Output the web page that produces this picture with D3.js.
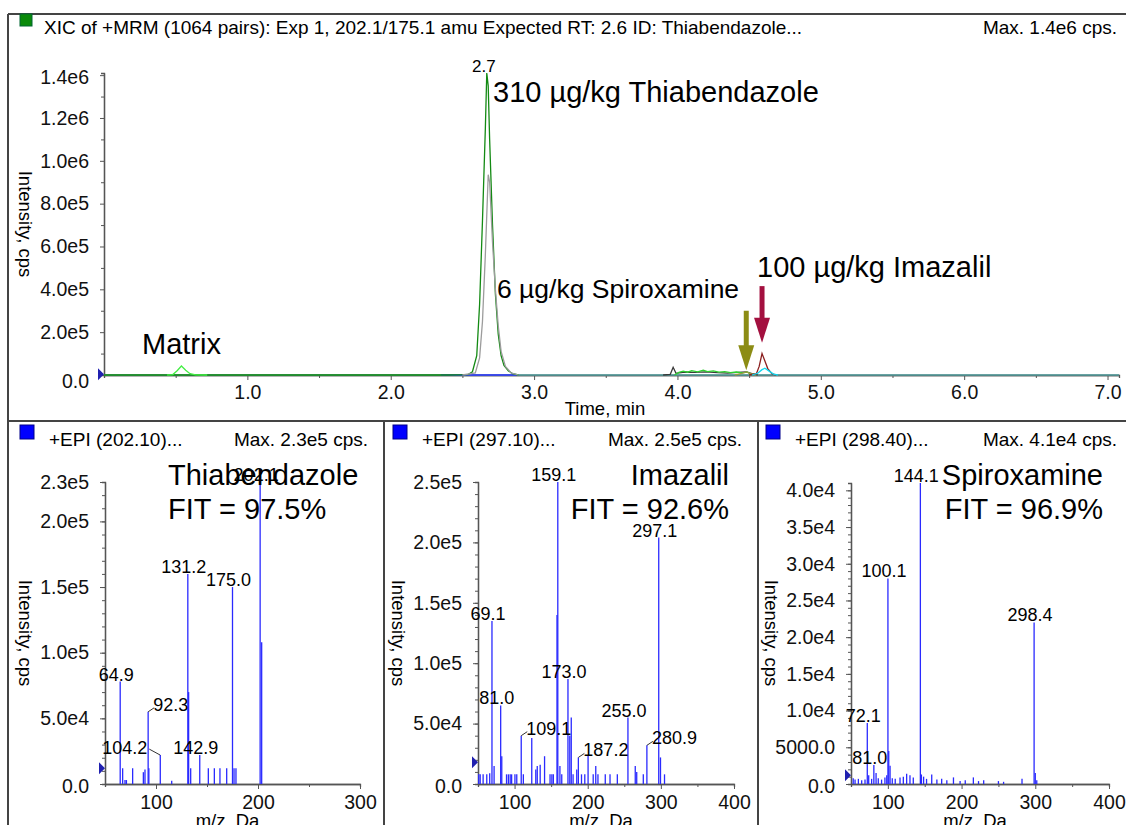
<!DOCTYPE html>
<html>
<head>
<meta charset="utf-8">
<script src="https://cdn.jsdelivr.net/npm/d3@7"></script>
<style>
  body { margin: 0; background: #fff; }
  svg { display: block; font-family: Arial, "Liberation Sans", sans-serif; }
</style>
</head>
<body>
<div id="chart"></div>
<script>
// ---- XIC traces, [time (min), intensity (cps)] ----
const xicBaseline = [[0, 0], [7.08, 0]];
const xicBlueBase = [[2.35, 0], [2.88, 0]];
const xicThiabendazole = [[0, 0], [2.40, 0], [2.54, 2000], [2.57, 15000], [2.60, 90000], [2.62, 330000], [2.64, 720000],
  [2.66, 1150000], [2.67, 1410000], [2.68, 1350000], [2.69, 1100000], [2.71, 700000], [2.73, 380000],
  [2.75, 190000], [2.77, 90000], [2.79, 45000], [2.82, 20000], [2.85, 6000], [2.89, 0]];
const xicGray = [[2.50, 0], [2.59, 10000], [2.62, 80000], [2.64, 250000], [2.66, 560000], [2.68, 935000],
  [2.69, 900000], [2.71, 620000], [2.73, 400000], [2.75, 230000], [2.77, 110000], [2.80, 40000],
  [2.84, 10000], [2.89, 0]];
const xicMatrix = [[0.44, 0], [0.48, 2000], [0.51, 20000], [0.54, 42000], [0.57, 22000], [0.60, 6000],
  [0.64, 1000], [0.72, 0]];
const xicDark = [[3.90, 0], [3.95, 3000], [3.97, 36000], [3.99, 8000], [4.05, 14000], [4.12, 12000], [4.20, 15000],
  [4.28, 11000], [4.35, 9000], [4.42, 12000], [4.48, 15000], [4.52, 6000], [4.56, 0]];
const xicNoise = [[3.98, 0], [4.01, 12000], [4.04, 18000], [4.07, 13000], [4.10, 20000], [4.14, 15000],
  [4.18, 22000], [4.21, 16000], [4.25, 19000], [4.29, 13000], [4.33, 16000], [4.37, 11000], [4.41, 14000],
  [4.45, 10000], [4.49, 13000], [4.52, 0]];
const xicSpiroxamine = [[4.40, 0], [4.45, 8000], [4.48, 14000], [4.51, 6000], [4.55, 0]];
const xicImazalil = [[4.50, 0], [4.55, 5000], [4.57, 40000], [4.59, 100000], [4.61, 65000], [4.63, 30000],
  [4.66, 5000], [4.69, 0]];
const xicCyan = [[4.52, 0], [4.56, 8000], [4.59, 25000], [4.61, 32000], [4.64, 18000], [4.67, 4000], [4.70, 0]];

// arrows: time, from intensity, to intensity
const arrowSpiro = [4.48, 300000, 22000];
const arrowImaz = [4.59, 415000, 150000];

const xicTicks = [1, 2, 3, 4, 5, 6, 7];
const xicYTicks = [0, 2e5, 4e5, 6e5, 8e5, 1e6, 1.2e6, 1.4e6];

// ---- EPI spectra, [m/z, intensity (cps)] ----
const specThiabendazole = [[64.9, 78000], [67.3, 12000], [69.6, 3000], [71, 3000], [77.1, 12000], [87.6, 9000],
  [89.2, 11000], [92.3, 55000], [93, 12000], [104.2, 22000], [115.4, 2500], [131.2, 160000], [132, 70000],
  [134, 12000], [142.9, 22000], [151.3, 12000], [157.2, 12000], [162.7, 12000], [169.3, 12000], [175.0, 150000],
  [176.5, 12000], [178.4, 12000], [202.1, 230000], [203.6, 108000]];
const specImazalil = [[51, 8000], [53, 8000], [57, 8000], [62, 8000], [66, 9000], [69.1, 135000], [72, 15000],
  [81.0, 65000], [82.5, 23000], [89, 8000], [91.5, 8000], [94, 8000], [96, 8000], [100.5, 8000], [103, 8000],
  [109.1, 40000], [112, 8000], [123.5, 38000], [129, 12000], [131, 15000], [135, 16000], [141, 23000],
  [148.5, 8000], [151, 8000], [153, 8000], [158, 140000], [159.1, 250000], [162, 15000], [164.5, 8000],
  [173.0, 87000], [175.5, 40000], [177.5, 55000], [180, 8000], [185, 12000], [187.2, 22000], [191.5, 8000],
  [196, 8000], [200.5, 24000], [207.5, 8000], [211, 15000], [214, 8000], [224, 8000], [230.5, 8000],
  [240.5, 8000], [255.0, 55000], [265, 15000], [267, 10000], [276, 8000], [280.9, 32000], [297.1, 204000],
  [299.5, 22000], [305, 8000]];
const specSpiroxamine = [[53, 800], [55.5, 600], [60, 700], [64.5, 500], [69, 600], [72.1, 8300], [74, 1200],
  [78, 700], [81.0, 2600], [84, 1500], [87, 800], [91.5, 600], [96, 900], [98.5, 1200], [100.1, 28000],
  [101.2, 4500], [103, 2500], [106, 800], [110, 700], [116.5, 900], [121, 1000], [125.5, 1400], [130, 1200],
  [134.5, 900], [144.1, 41000], [145.5, 1300], [148.5, 1000], [152.5, 700], [159.5, 1300], [166.5, 600],
  [173, 700], [180, 500], [189, 900], [198, 400], [205, 500], [216, 900], [223, 400], [230, 500], [250, 400],
  [257, 300], [282, 700], [298.4, 22000], [300, 1500], [302, 500]];

const peakLabelsThia = ["64.9", "92.3", "104.2", "131.2", "142.9", "175.0", "202.1"];
const peakLabelsImaz = ["69.1", "81.0", "109.1", "159.1", "173.0", "187.2", "255.0", "280.9", "297.1"];
const peakLabelsSpiro = ["72.1", "81.0", "100.1", "144.1", "298.4"];

const specYTicksThia = [0, 5e4, 1e5, 1.5e5, 2e5, 2.3e5];
const specYTicksImaz = [0, 5e4, 1e5, 1.5e5, 2e5, 2.5e5];
const specYTicksSpiro = [0, 5000, 1e4, 1.5e4, 2e4, 2.5e4, 3e4, 3.5e4, 4e4];

// threshold markers (blue triangles at the y axis)
const thresholds = { xic: 3000, thia: 12000, imaz: 18000, spiro: 1200 };

// ------------------------------------------------------------------
const W = 1126, H = 825;
const svg = d3.select("#chart").append("svg").attr("width", W).attr("height", H);
const axisColor = "#555";
const tickFont = "19.5px", headFont = "19px", labelFont = "18.5px", peakFont = "18px", bigFont = "29px";

function sciFmt(v) {
  if (v === 0) return "0.0";
  if (v < 1e4) return v.toFixed(1);
  const e = Math.floor(Math.log10(v) + 1e-9);
  return (v / Math.pow(10, e)).toFixed(1) + "e" + e;
}

function styleAxis(g) {
  g.selectAll(".domain").attr("stroke", axisColor).attr("stroke-width", 1.3);
  g.selectAll(".tick line").attr("stroke", axisColor);
  g.selectAll(".tick text").attr("fill", "#111").style("font-size", tickFont)
    .style("font-family", "Arial, 'Liberation Sans', sans-serif");
}

function triangle(x, y) {
  svg.append("path")
    .attr("d", `M${x - 6},${y - 6} L${x},${y} L${x - 6},${y + 6} Z`)
    .attr("fill", "#2020b0");
}

// ---- frame ----
const frame = svg.append("g").attr("stroke", "#444").attr("stroke-width", 2).attr("fill", "none");
frame.append("line").attr("x1", 8).attr("x2", W).attr("y1", 14).attr("y2", 14);
frame.append("line").attr("x1", 8).attr("x2", 8).attr("y1", 14).attr("y2", H);
frame.append("line").attr("x1", 8).attr("x2", W).attr("y1", 421).attr("y2", 421);
frame.append("line").attr("x1", 384).attr("x2", 384).attr("y1", 421).attr("y2", H);
frame.append("line").attr("x1", 758).attr("x2", 758).attr("y1", 421).attr("y2", H);

// ---- top XIC panel ----
svg.append("rect").attr("x", 20).attr("y", 14).attr("width", 12).attr("height", 12)
  .attr("fill", "#0a8a0a").attr("stroke", "#063").attr("stroke-width", 1);
svg.append("text").attr("x", 44).attr("y", 34).style("font-size", headFont)
  .text("XIC of +MRM (1064 pairs): Exp 1, 202.1/175.1 amu Expected RT: 2.6 ID: Thiabendazole...");
svg.append("text").attr("x", 1117).attr("y", 34).attr("text-anchor", "end").style("font-size", headFont)
  .text("Max. 1.4e6 cps.");

const xT = d3.scaleLinear().domain([0, 7.08]).range([104, 1119]);
const yT = d3.scaleLinear().domain([0, 1.41e6]).range([375, 73]);

const gxT = svg.append("g").attr("transform", `translate(0,${yT(0)})`)
  .call(d3.axisBottom(xT).tickValues(xicTicks).tickSize(5).tickSizeOuter(0).tickPadding(5)
    .tickFormat(d => d.toFixed(1)));
styleAxis(gxT);
const gxTm = svg.append("g").attr("transform", `translate(0,${yT(0)})`)
  .call(d3.axisBottom(xT).tickValues(d3.range(0.5, 7.1, 1)).tickSize(3).tickFormat(""));
styleAxis(gxTm);
const gyT = svg.append("g").attr("transform", `translate(${xT(0)},0)`)
  .call(d3.axisLeft(yT).tickValues(xicYTicks).tickSize(4).tickSizeOuter(0).tickPadding(11).tickFormat(sciFmt));
styleAxis(gyT);
gyT.selectAll(".tick text").filter(d => d === 0).attr("dy", "0.62em");
gyT.selectAll(".tick text").filter(d => d === 1.4e6).attr("dy", "0.45em");
const gyTm = svg.append("g").attr("transform", `translate(${xT(0)},0)`)
  .call(d3.axisLeft(yT).tickValues(d3.range(1e5, 1.41e6, 2e5)).tickSize(3).tickFormat(""));
styleAxis(gyTm);

svg.append("text").attr("x", 605).attr("y", 415).attr("text-anchor", "middle").style("font-size", labelFont)
  .text("Time, min");
svg.append("text").attr("transform", "translate(19,224) rotate(90)").attr("text-anchor", "middle")
  .style("font-size", labelFont).text("Intensity, cps");

const lineT = d3.line().x(d => xT(d[0])).y(d => yT(d[1]));
const traces = [
  [xicBaseline, "#4f9c9c"], [xicBlueBase, "#3030ff"], [xicThiabendazole, "#138a13"], [xicGray, "#9c9c9c"],
  [xicMatrix, "#44ee44"], [xicDark, "#3a3a3a"], [xicNoise, "#2fd02f"], [xicSpiroxamine, "#9a9a40"],
  [xicImazalil, "#8b2020"], [xicCyan, "#10d8f0"]
];
traces.forEach(([data, color]) => {
  svg.append("path").datum(data).attr("fill", "none").attr("stroke", color)
    .attr("stroke-width", 1.3).attr("d", lineT);
});
triangle(xT(0), yT(thresholds.xic));

// arrows
function arrow(a, color) {
  const x = xT(a[0]), y0 = yT(a[1]), y1 = yT(a[2]);
  svg.append("line").attr("x1", x).attr("x2", x).attr("y1", y0).attr("y2", y1 - 20)
    .attr("stroke", color).attr("stroke-width", 5);
  svg.append("path").attr("d", `M${x - 8},${y1 - 25} L${x + 8},${y1 - 25} L${x},${y1} Z`).attr("fill", color);
}
arrow(arrowSpiro, "#8c8c14");
arrow(arrowImaz, "#a3103f");

// annotations
svg.append("text").attr("x", xT(2.67) - 3).attr("y", yT(1.41e6) - 1).attr("text-anchor", "middle")
  .style("font-size", "17px").text("2.7");
svg.append("text").attr("x", 493).attr("y", 102).style("font-size", bigFont).text("310 µg/kg Thiabendazole");
svg.append("text").attr("x", 497).attr("y", 298).style("font-size", "26.5px").text("6 µg/kg Spiroxamine");
svg.append("text").attr("x", 757).attr("y", 277).style("font-size", bigFont).text("100 µg/kg Imazalil");
svg.append("text").attr("x", 142).attr("y", 354).style("font-size", bigFont).text("Matrix");

// ---- spectra panels ----
// leader-line labels: side to which the text moves away from the peak
const leaderRight = ["92.3", "109.1", "187.2", "280.9"];
const leaderLeft = ["104.2"];

function spectrumPanel(cfg) {
  const g = svg.append("g");
  g.append("rect").attr("x", cfg.left - 85).attr("y", 425).attr("width", 14).attr("height", 14)
    .attr("fill", "#0000ff").attr("stroke", "#00008a");
  g.append("text").attr("x", cfg.left - 56).attr("y", 446).style("font-size", headFont).text(cfg.title);
  g.append("text").attr("x", cfg.maxX).attr("y", 446).attr("text-anchor", "end").style("font-size", headFont)
    .text(cfg.max);

  const x = d3.scaleLinear().domain(cfg.xDomain).range([cfg.left, cfg.right]);
  const y = d3.scaleLinear().domain([0, cfg.yMax]).range([784, cfg.top]);

  const gx = g.append("g").attr("transform", `translate(0,784)`)
    .call(d3.axisBottom(x).tickValues(cfg.xTicks).tickSize(5).tickSizeOuter(0).tickPadding(6).tickFormat(d3.format("d")));
  styleAxis(gx);
  const gxm = g.append("g").attr("transform", `translate(0,784)`)
    .call(d3.axisBottom(x).tickValues(cfg.xTicks.map(d => d + 50).filter(d => d < cfg.xDomain[1])).tickSize(3).tickFormat(""));
  styleAxis(gxm);
  const gy = g.append("g").attr("transform", `translate(${cfg.left},0)`)
    .call(d3.axisLeft(y).tickValues(cfg.yTicks).tickSize(5).tickSizeOuter(0).tickPadding(11).tickFormat(sciFmt));
  styleAxis(gy);
  gy.selectAll(".tick text").filter(d => d === 0).attr("dy", "0.45em");
  const gym = g.append("g").attr("transform", `translate(${cfg.left},0)`)
    .call(d3.axisLeft(y).tickValues(d3.range(cfg.minorStep, cfg.yMax, cfg.minorStep)).tickSize(3).tickFormat(""));
  styleAxis(gym);

  g.append("text").attr("x", (cfg.left + cfg.right) / 2 - 5).attr("y", 827).attr("text-anchor", "middle")
    .style("font-size", labelFont).text("m/z, Da");
  g.append("text").attr("transform", `translate(${cfg.left - 86},${633}) rotate(90)`).attr("text-anchor", "middle")
    .style("font-size", labelFont).text("Intensity, cps");

  g.selectAll("line.stick").data(cfg.data).join("line").attr("class", "stick")
    .attr("x1", d => x(d[0])).attr("x2", d => x(d[0]))
    .attr("y1", y(0)).attr("y2", d => y(d[1]))
    .attr("stroke", "#2a2aff").attr("stroke-width", 1.3);

  triangle(cfg.left, y(cfg.threshold));

  cfg.labels.forEach(lbl => {
    const pk = cfg.data.find(d => d[0].toFixed(1) === lbl);
    const px = x(pk[0]), py = y(pk[1]);
    if (leaderRight.includes(lbl)) {
      g.append("line").attr("x1", px).attr("y1", py).attr("x2", px + 6).attr("y2", py - 4)
        .attr("stroke", "#333");
      g.append("text").attr("x", px + 5).attr("y", py - 1).style("font-size", peakFont).text(lbl);
    } else if (leaderLeft.includes(lbl)) {
      g.append("line").attr("x1", px).attr("y1", py).attr("x2", px - 11).attr("y2", py - 6)
        .attr("stroke", "#333");
      g.append("text").attr("x", px - 13).attr("y", py - 1).attr("text-anchor", "end").style("font-size", peakFont).text(lbl);
    } else {
      g.append("text").attr("x", px - 4).attr("y", py - 1).attr("text-anchor", "middle")
        .style("font-size", peakFont).text(lbl);
    }
  });

  g.append("text").attr("x", cfg.noteX).attr("y", 485).attr("text-anchor", cfg.noteAnchor)
    .style("font-size", bigFont).text(cfg.name);
  g.append("text").attr("x", cfg.noteX).attr("y", 519).attr("text-anchor", cfg.noteAnchor)
    .style("font-size", bigFont).text(cfg.fit);
}

spectrumPanel({
  title: "+EPI (202.10)...", max: "Max. 2.3e5 cps.", maxX: 368,
  left: 105, right: 360, top: 482, xDomain: [50, 300], xTicks: [100, 200, 300],
  yMax: 2.3e5, yTicks: specYTicksThia, minorStep: 1e4,
  data: specThiabendazole, labels: peakLabelsThia, threshold: thresholds.thia,
  name: "Thiabendazole", fit: "FIT = 97.5%", noteX: 168, noteAnchor: "start"
});
spectrumPanel({
  title: "+EPI (297.10)...", max: "Max. 2.5e5 cps.", maxX: 742,
  left: 478, right: 734, top: 482, xDomain: [50, 400], xTicks: [100, 200, 300, 400],
  yMax: 2.5e5, yTicks: specYTicksImaz, minorStep: 1e4,
  data: specImazalil, labels: peakLabelsImaz, threshold: thresholds.imaz,
  name: "Imazalil", fit: "FIT = 92.6%", noteX: 729, noteAnchor: "end"
});
spectrumPanel({
  title: "+EPI (298.40)...", max: "Max. 4.1e4 cps.", maxX: 1117,
  left: 851, right: 1109, top: 483, xDomain: [50, 400], xTicks: [100, 200, 300, 400],
  yMax: 4.1e4, yTicks: specYTicksSpiro, minorStep: 1000,
  data: specSpiroxamine, labels: peakLabelsSpiro, threshold: thresholds.spiro,
  name: "Spiroxamine", fit: "FIT = 96.9%", noteX: 1103, noteAnchor: "end"
});
</script>
</body>
</html>
